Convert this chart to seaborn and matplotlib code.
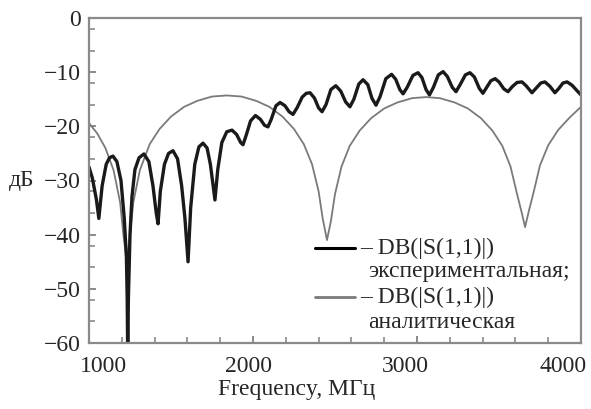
import matplotlib
matplotlib.use("Agg")
import matplotlib.pyplot as plt
import matplotlib.transforms as mtransforms
from matplotlib.lines import Line2D
from matplotlib.ticker import FixedLocator
import seaborn as sns
import pandas as pd

# ---- data ----
exp_freq = [1000, 1020, 1045, 1060, 1080, 1105, 1125, 1146, 1170, 1195, 1215, 1228, 1233, 1236,
            1240, 1250, 1262, 1280, 1305, 1335, 1365, 1390, 1410, 1421, 1435, 1460, 1485, 1512,
            1540, 1565, 1585, 1604, 1620, 1645, 1670, 1695, 1720, 1740, 1755, 1768, 1785, 1810,
            1840, 1872, 1900, 1925, 1939, 1960, 1985, 2015, 2045, 2070, 2091, 2110, 2140, 2165,
            2195, 2220, 2244, 2270, 2300, 2325, 2348, 2375, 2400, 2421, 2445, 2475, 2505, 2535,
            2565, 2591, 2615, 2645, 2671, 2700, 2725, 2750, 2775, 2810, 2845, 2870, 2895, 2915,
            2940, 2975, 3006, 3030, 3055, 3076, 3100, 3130, 3159, 3185, 3215, 3238, 3265, 3295,
            3323, 3350, 3380, 3402, 3425, 3450, 3476, 3500, 3530, 3555, 3580, 3610, 3640, 3665,
            3701, 3725, 3755, 3780, 3810, 3841, 3865, 3890, 3915, 3945, 3975, 4000]
exp_db = [-27.5, -29.5, -33.5, -37.0, -31.0, -27.0, -25.8, -25.5, -26.5, -30.0, -37.0, -44.0, -52.0, -62.0,
          -52.0, -40.0, -33.0, -28.0, -25.8, -25.1, -26.5, -31.0, -36.0, -38.0, -32.0, -27.0, -25.0, -24.5,
          -26.0, -31.0, -37.0, -45.0, -35.0, -27.0, -23.8, -23.1, -24.0, -27.0, -30.5, -33.6, -28.0, -23.0,
          -21.0, -20.7, -21.5, -23.0, -23.4, -21.5, -19.0, -18.0, -18.7, -19.8, -20.1, -18.8, -16.2, -15.6,
          -16.2, -17.3, -17.8, -16.5, -14.6, -13.9, -13.8, -14.8, -16.6, -17.3, -16.0, -13.2, -12.5, -13.5,
          -15.5, -16.4, -15.0, -12.2, -11.4, -12.3, -14.8, -16.1, -14.5, -11.2, -10.4, -11.3, -13.2, -14.0,
          -12.8, -10.6, -10.1, -11.0, -13.2, -14.2, -12.8, -10.5, -9.9, -10.8, -12.8, -13.6, -12.2, -10.5,
          -10.1, -10.9, -13.0, -13.9, -12.8, -11.6, -11.2, -11.8, -13.1, -13.6, -12.7, -11.9, -11.8, -12.5,
          -13.8, -13.0, -12.0, -11.8, -12.6, -13.8, -13.0, -12.0, -11.8, -12.4, -13.4, -14.2]

ana_freq = [1000, 1050, 1100, 1150, 1190, 1210, 1230, 1250, 1270, 1310, 1370, 1430, 1500, 1580,
            1660, 1750, 1840, 1930, 2020, 2100, 2180, 2250, 2310, 2360, 2400, 2425, 2451, 2475,
            2500, 2540, 2590, 2650, 2720, 2800, 2880, 2970, 3055, 3140, 3230, 3310, 3390, 3460,
            3520, 3570, 3610, 3635, 3659, 3683, 3710, 3750, 3800, 3860, 3930, 4000]
ana_db = [-19.4, -21.3, -24.0, -28.1, -34.1, -40.1, -45.0, -40.1, -34.1, -28.1, -23.3, -20.5, -18.2, -16.4,
          -15.3, -14.5, -14.3, -14.5, -15.3, -16.4, -18.2, -20.5, -23.3, -27.0, -32.0, -37.0, -41.0, -37.5,
          -32.5, -27.4, -23.6, -20.8, -18.5, -16.7, -15.6, -14.8, -14.6, -14.8, -15.6, -16.7, -18.5, -20.8,
          -23.6, -27.4, -32.5, -35.5, -38.6, -35.5, -32.3, -27.2, -23.5, -20.7, -18.4, -16.4]

x_ticks = [1000, 2000, 3000, 4000]
x_tick_labels = ["1000", "2000", "3000", "4000"]
y_ticks = [0, -10, -20, -30, -40, -50, -60]
y_tick_labels = ["0", "\u221210", "\u221220", "\u221230", "\u221240", "\u221250", "\u221260"]

exp_label = ["\u2013 DB(|S(1,1)|)", "\u044d\u043a\u0441\u043f\u0435\u0440\u0438\u043c\u0435\u043d\u0442\u0430\u043b\u044c\u043d\u0430\u044f;"]
ana_label = ["\u2013 DB(|S(1,1)|)", "\u0430\u043d\u0430\u043b\u0438\u0442\u0438\u0447\u0435\u0441\u043a\u0430\u044f"]
x_label = "Frequency, \u041c\u0413\u0446"
y_label = "\u0434\u0411"

# ---- style ----
sns.set_style("white")
plt.rcParams["font.family"] = ["Liberation Serif", "DejaVu Serif"]
plt.rcParams["axes.unicode_minus"] = True
FS = 17

df_exp = pd.DataFrame({"f": exp_freq, "db": exp_db})
df_ana = pd.DataFrame({"f": ana_freq, "db": ana_db})

fig = plt.figure(figsize=(5.91, 4.09), dpi=100)
ax = fig.add_axes([89/591, 1-343/409, (581-89)/591, (343-18)/409])

sns.lineplot(data=df_ana, x="f", y="db", ax=ax, color="#7a7a7a", linewidth=1.3, sort=False)
sns.lineplot(data=df_exp, x="f", y="db", ax=ax, color="#1a1a1a", linewidth=2.4, sort=False)

ax.set_xlim(1000, 4000)
ax.set_ylim(-60, 0)

for s in ax.spines.values():
    s.set_color("#8a8a8a")
    s.set_linewidth(1.6)

ax.set_xticks(x_ticks)
ax.set_xticklabels(x_tick_labels, fontsize=FS)
ax.set_yticks(y_ticks)
ax.set_yticklabels(y_tick_labels, fontsize=FS)
ax.xaxis.set_minor_locator(FixedLocator([1200, 1400, 1600, 1800, 2200, 2400, 2600, 2800,
                                         3200, 3400, 3600, 3800]))
ax.yaxis.set_minor_locator(FixedLocator([-2, -6, -12, -16, -22, -26, -32, -36,
                                         -42, -46, -52, -56]))
ax.tick_params(axis="both", which="major", direction="in", length=5, width=1.4,
               color="#8a8a8a", bottom=True, left=True, top=False, right=False)
ax.tick_params(axis="both", which="minor", direction="in", length=4, width=1.2,
               color="#8a8a8a", bottom=True, left=True, top=False, right=False)
ax.tick_params(axis="x", which="major", pad=9)
ax.tick_params(axis="y", which="major", pad=6)

# shift x tick labels like the reference
offsets_px = [14, -5, -12, -18]
for lab, dx in zip(ax.get_xticklabels(), offsets_px):
    lab.set_transform(lab.get_transform() +
                      mtransforms.ScaledTranslation(dx/100, 0, fig.dpi_scale_trans))

ax.set_xlabel(x_label, fontsize=FS, va="center")
ax.xaxis.set_label_coords((297-89)/492, (343-390)/325)
ax.set_ylabel(y_label, fontsize=FS, rotation=0, va="center", ha="center")
ax.yaxis.set_label_coords((22-89)/492, 0.5)

# legend drawn manually
def ax_y(py):
    return (343-py)/325

ax.add_line(Line2D([0.459, 0.541], [ax_y(248)]*2, transform=ax.transAxes,
                   color="black", linewidth=2.2))
ax.add_line(Line2D([0.459, 0.541], [ax_y(297)]*2, transform=ax.transAxes,
                   color="#7a7a7a", linewidth=2.0))
ax.text((360-89)/492, ax_y(248), exp_label[0], transform=ax.transAxes, fontsize=FS, va="center", ha="left")
ax.text((368-89)/492, ax_y(272), exp_label[1], transform=ax.transAxes, fontsize=FS, va="center", ha="left")
ax.text((360-89)/492, ax_y(297), ana_label[0], transform=ax.transAxes, fontsize=FS, va="center", ha="left")
ax.text((368-89)/492, ax_y(322), ana_label[1], transform=ax.transAxes, fontsize=FS, va="center", ha="left")

fig.savefig("out.png", dpi=100)
